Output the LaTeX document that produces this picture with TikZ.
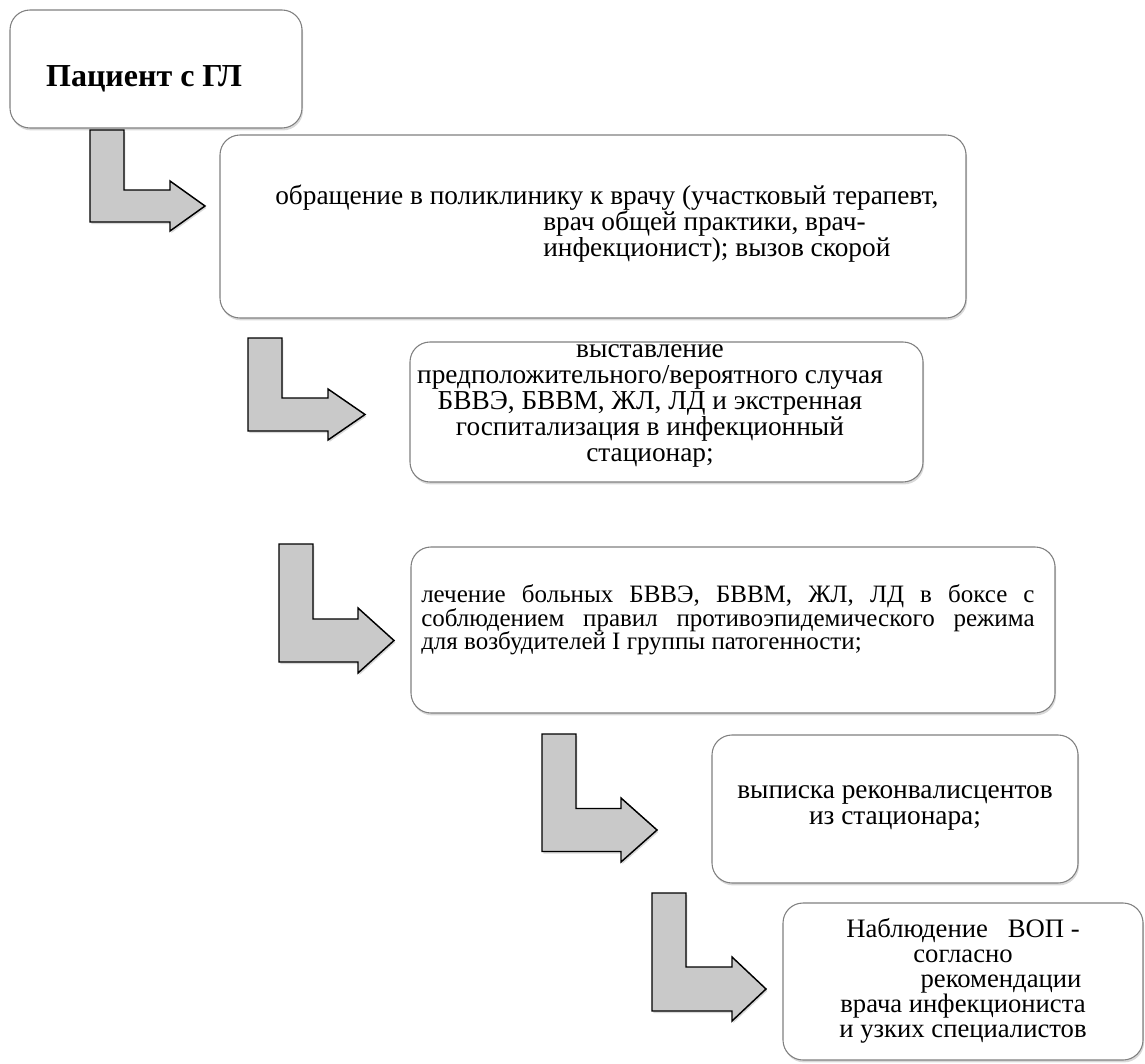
\documentclass[tikz,border=0pt]{standalone}
\usepackage{fontspec}
\setmainfont{Liberation Serif}
\usetikzlibrary{shadows,fit}

\newcommand{\bentarrow}[7]{%
\draw[turnarrow](#1,#2)--++(34,0)|-(#5,#3-#4)--(#5,#3-#7)--(#6,#3)--(#5,#3+#7)--(#5,#3+#4)--(#1,#3+#4)--cycle;}

\begin{document}
\begin{tikzpicture}[x=0.75pt,y=-0.75pt,
    box/.style={draw=black!50, line width=0.8pt, fill=white, rounded corners=15pt, inner sep=0pt,
        drop shadow={shadow xshift=0.8pt, shadow yshift=-1.8pt, opacity=0.3}},
    turnarrow/.style={draw=black, line width=1.1pt, fill=black!21, line join=miter,
        drop shadow={shadow xshift=1pt, shadow yshift=-1.5pt, opacity=0.3}},
    txt/.style={font=\fontsize{20.5}{19.5}\selectfont, inner sep=0pt}]
\useasboundingbox (0,0) rectangle (1145,1063);

\node[box, fit={(10,10) (302,128)}] (b1) {};
\node[box, fit={(220,135) (966,318)}] (b2) {};
\node[box, fit={(410,342) (923,482)}] (b3) {};
\node[box, fit={(411,547) (1055,713)}] (b4) {};
\node[box, fit={(712,735) (1078,883)}] (b5) {};
\node[box, fit={(783,903) (1143,1060)}] (b6) {};

\bentarrow{90}{130}{206}{16}{170}{205}{25}
\bentarrow{248}{338}{414.5}{16.5}{328}{365}{25.5}
\bentarrow{279}{544}{640.5}{21.5}{358}{394}{32.5}
\bentarrow{542}{734}{830}{21.5}{621}{657}{32}
\bentarrow{652}{893}{989}{22}{732}{766}{32}

\node[txt, font=\bfseries\fontsize{24}{26}\selectfont] (t1) at (144,79) {Пациент с ГЛ};
\node[txt, align=left, anchor=north west] (t2) at (275,185)
    {обращение в поликлинику к врачу (участковый терапевт,\\
    \hspace*{201pt}врач общей практики, врач-\\
    \hspace*{201pt}инфекционист); вызов скорой};
\node[txt, align=center] (t3) at (650,406)
    {выставление\\предположительного/вероятного случая\\БВВЭ, БВВМ, ЖЛ, ЛД и экстренная\\госпитализация в инфекционный\\стационар;};
\node[txt, font=\fontsize{18.75}{17.5}\selectfont, align=left, anchor=west] (t4) at (421,620)
    {\makebox[460pt][s]{лечение больных БВВЭ, БВВМ, ЖЛ, ЛД в боксе с}\\
    \makebox[460pt][s]{соблюдением правил противоэпидемического режима}\\
    для возбудителей I группы патогенности;};
\node[txt, align=center] (t5) at (895,808) {выписка реконвалисцентов\\из стационара;};
\node[txt, font=\fontsize{20}{18.75}\selectfont, align=center] (t6) at (963,981)
    {Наблюдение\ \ \ ВОП -\\согласно\\\hspace*{57pt}рекомендации\\врача инфекциониста\\и узких специалистов};

\end{tikzpicture}
\end{document}
